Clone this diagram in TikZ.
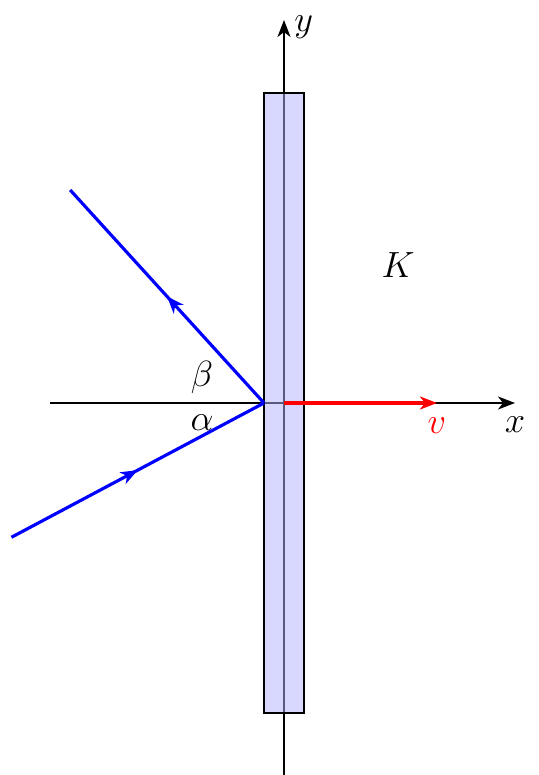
\documentclass[tikz,border=0pt]{standalone}
\usetikzlibrary{arrows.meta,decorations.markings,calc}
\begin{document}
\begin{tikzpicture}[
    axis/.style={line width=1.1pt,-{Stealth[length=3.4mm,width=2.6mm,inset=1mm]}},
    ray/.style={blue,line width=1.8pt,postaction={decorate},
      decoration={markings,mark=at position 0.5 with
        {\arrow{Stealth[length=3.4mm,width=2.6mm,inset=1mm]}}}},
    lbl/.style={font=\huge}]
  \useasboundingbox (-5.68,-7.44) rectangle (5.08,8.06);
  % axes
  \coordinate (O) at (0,0);
  \coordinate (xl) at (-4.68,0);
  \coordinate (xr) at (4.62,0);
  \coordinate (yb) at (0,-7.44);
  \coordinate (yt) at (0,7.66);
  \draw[axis] (xl) -- (xr) node[lbl,below=4pt] (xlab) {$x$};
  \draw[axis] (yb) -- (yt) node[lbl,right=2pt,yshift=-4pt] (ylab) {$y$};
  % mirror
  \draw[line width=1.1pt,fill=blue!30,fill opacity=0.5] (-0.4,-6.2) rectangle (0.4,6.2);
  \node[lbl] (K) at (2.28,2.76) {$K$};
  % velocity
  \coordinate (vend) at (3.06,0);
  \draw[red,line width=1.8pt,-{Stealth[length=3.4mm,width=2.6mm,inset=1mm]}]
    (O) -- (vend) node[lbl,below=4pt] (vlab) {$v$};
  % rays
  \coordinate (P) at (-0.4,0);
  \coordinate (in) at ($(P)+(208:5.72)$);
  \coordinate (out) at ($(P)+(132.3:5.76)$);
  \draw[ray] (in) -- (P);
  \draw[ray] (P) -- (out);
  \node[lbl] (alab) at (-1.64,-0.4) {$\alpha$};
  \node[lbl] (blab) at (-1.64,0.52) {$\beta$};
\end{tikzpicture}
\end{document}
